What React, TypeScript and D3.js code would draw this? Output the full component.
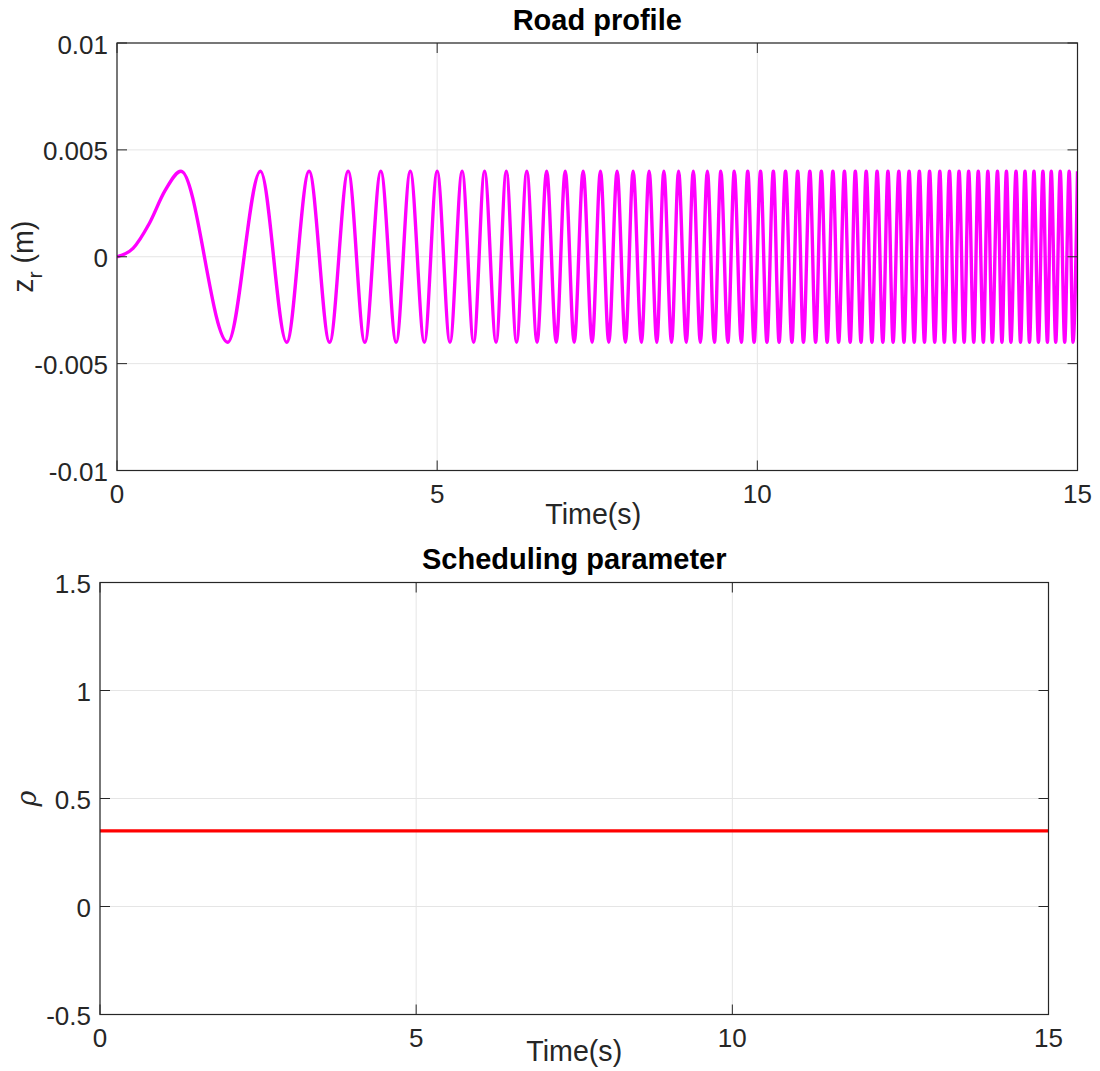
import React from "react";
import * as d3 from "d3";

// Road profile: extrema (seconds)
const peakTimes = [1.00,2.24,3.00,3.61,4.12,4.58,5.00,5.39,5.74,6.08,6.40,6.71,7.00,7.28,7.55,7.81,8.06,8.31,8.54,8.77,9.00,9.22,9.43,9.64,9.85,10.05,10.25,10.44,10.63,10.82,11.00,11.18,11.36,11.53,11.70,11.87,12.04,12.21,12.37,12.53,12.69,12.85,13.00,13.15,13.30,13.45,13.60,13.75,13.89,14.04,14.18,14.32,14.46,14.59,14.73,14.87,15.00];
const troughTimes = [1.73,2.65,3.32,3.87,4.36,4.80,5.20,5.57,5.92,6.24,6.56,6.86,7.14,7.42,7.68,7.94,8.19,8.43,8.66,8.89,9.11,9.33,9.54,9.75,9.95,10.15,10.34,10.54,10.72,10.91,11.09,11.27,11.45,11.62,11.79,11.96,12.12,12.29,12.45,12.61,12.77,12.92,13.08,13.23,13.38,13.53,13.67,13.82,13.96,14.11,14.25,14.39,14.53,14.66,14.80,14.93];
const peakValue = 0.004;
const troughValue = -0.004;
// initial ramp before the first peak
const rampTimes = [0, 0.25, 0.5, 0.75];
const rampValues = [0, 0.00039, 0.00153, 0.00309];

// Scheduling parameter
const rhoTimes = [0, 15];
const rhoValues = [0.35, 0.35];

const xTicks = [0, 5, 10, 15];
const zTicks = [-0.01, -0.005, 0, 0.005, 0.01];
const zTickLabels = ["-0.01", "-0.005", "0", "0.005", "0.01"];
const rhoTicks = [-0.5, 0, 0.5, 1, 1.5];
const rhoTickLabels = ["-0.5", "0", "0.5", "1", "1.5"];

const FONT = "'Liberation Sans', Arial, Helvetica, sans-serif";
const AX = "#262626";
const GRID = "#e5e5e5";

type Pt = { t: number; v: number };

function Panel(props: {
  left: number; right: number; top: number; bottom: number;
  xDomain: [number, number]; yDomain: [number, number];
  yTicks: number[]; yTickLabels: string[];
  title: string; ylabel: React.ReactNode; ylabelX: number;
  xlabelDx: number; xlabelDy: number;
  data: Pt[]; color: string; clipId: string; curve: any;
}) {
  const { left, right, top, bottom } = props;
  const x = d3.scaleLinear().domain(props.xDomain).range([left, right]);
  const y = d3.scaleLinear().domain(props.yDomain).range([bottom, top]);
  const line = d3.line<Pt>().x((d) => x(d.t)).y((d) => y(d.v)).curve(props.curve);
  const tl = 10;
  return (
    <g>
      <defs>
        <clipPath id={props.clipId}>
          <rect x={left} y={top - 2} width={right - left} height={bottom - top + 4} />
        </clipPath>
      </defs>
      {xTicks.map((t) => (
        <line key={"gx" + t} x1={x(t)} x2={x(t)} y1={top} y2={bottom} stroke={GRID} strokeWidth={1} />
      ))}
      {props.yTicks.map((t) => (
        <line key={"gy" + t} x1={left} x2={right} y1={y(t)} y2={y(t)} stroke={GRID} strokeWidth={1} />
      ))}
      <path d={line(props.data) || ""} fill="none" stroke={props.color} strokeWidth={3.4}
        clipPath={`url(#${props.clipId})`} strokeLinejoin="round" />
      <rect x={left} y={top} width={right - left} height={bottom - top} fill="none" stroke={AX} strokeWidth={1.2} />
      {xTicks.map((t) => (
        <g key={"tx" + t}>
          <line x1={x(t)} x2={x(t)} y1={bottom} y2={bottom - tl} stroke={AX} />
          <line x1={x(t)} x2={x(t)} y1={top} y2={top + tl} stroke={AX} />
          <text x={x(t)} y={bottom + 32.5} textAnchor="middle" fontSize={26} fill={AX} fontFamily={FONT}>{t}</text>
        </g>
      ))}
      {props.yTicks.map((t, i) => (
        <g key={"ty" + t}>
          <line x1={left} x2={left + tl} y1={y(t)} y2={y(t)} stroke={AX} />
          <line x1={right} x2={right - tl} y1={y(t)} y2={y(t)} stroke={AX} />
          <text x={left - 9} y={y(t) + 10.5} textAnchor="end" fontSize={26} fill={AX} fontFamily={FONT}>{props.yTickLabels[i]}</text>
        </g>
      ))}
      <text x={(left + right) / 2} y={top - 13.5} textAnchor="middle" fontSize={29} fontWeight="bold" fill="#000" fontFamily={FONT}>{props.title}</text>
      <text x={(left + right) / 2 + props.xlabelDx} y={bottom + props.xlabelDy} textAnchor="middle" fontSize={28.6} fill={AX} fontFamily={FONT}>Time(s)</text>
      <g transform={`translate(${props.ylabelX},${(top + bottom) / 2}) rotate(-90)`}>{props.ylabel}</g>
    </g>
  );
}

export default function App() {
  const roadData: Pt[] = [
    ...rampTimes.map((t, i) => ({ t, v: rampValues[i] })),
    ...peakTimes.map((t) => ({ t, v: peakValue })),
    ...troughTimes.map((t) => ({ t, v: troughValue })),
  ].sort((a, b) => a.t - b.t);
  const rhoData: Pt[] = rhoTimes.map((t, i) => ({ t, v: rhoValues[i] }));

  return (
    <svg width={1100} height={1071} style={{ position: "absolute", left: 0, top: 0, background: "#fff" }}>
      <rect width={1100} height={1071} fill="#fff" />
      <Panel left={117} right={1077.5} top={43} bottom={470.5}
        xDomain={[0, 15]} yDomain={[-0.01, 0.01]}
        yTicks={zTicks} yTickLabels={zTickLabels}
        title="Road profile"
        ylabelX={33}
        xlabelDx={-4} xlabelDy={53}
        ylabel={
          <text textAnchor="middle" fontSize={28.6} fill={AX} fontFamily={FONT}>
            z<tspan fontSize={21} dy={9}>r</tspan><tspan dy={-9}> (m)</tspan>
          </text>
        }
        data={roadData} color="#ff00ff" clipId="clipTop" curve={d3.curveMonotoneX} />
      <Panel left={100} right={1048.5} top={582.5} bottom={1014.5}
        xDomain={[0, 15]} yDomain={[-0.5, 1.5]}
        yTicks={rhoTicks} yTickLabels={rhoTickLabels}
        title="Scheduling parameter"
        ylabelX={36}
        xlabelDx={0} xlabelDy={46}
        ylabel={
          <text textAnchor="middle" fontSize={27} fill={AX} fontFamily="'DejaVu Serif', 'Liberation Serif', serif" fontStyle="italic">ρ</text>
        }
        data={rhoData} color="#ff0000" clipId="clipBot" curve={d3.curveLinear} />
    </svg>
  );
}
